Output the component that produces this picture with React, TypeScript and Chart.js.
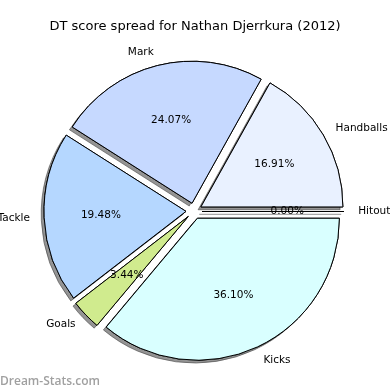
import React, { useEffect, useRef } from "react";
import { Chart, registerables } from "chart.js";

Chart.register(...registerables);

const TITLE = "DT score spread for Nathan Djerrkura (2012)";
const WATERMARK = "Dream-Stats.com";
// matplotlib (counter-clockwise from 3 o'clock) order
const categories = ["Handballs", "Mark", "Tackle", "Goals", "Kicks", "Hitout"];
const values = [16.91, 24.07, 19.48, 3.44, 36.1, 0.0];
const colors = ["#e9f1ff", "#c6d9ff", "#b5d7ff", "#d0eb8e", "#d9ffff", "#e9f1ff"];

const EXPLODE = 8; // px
const RADIUS = 142;
const FONT = '"DejaVu Sans", sans-serif';

// Chart.js draws clockwise, so reverse the order
const cjLabels = [...categories].reverse();
const cjValues = [...values].reverse();
const cjColors = [...colors].reverse();

function setShadow(ctx: CanvasRenderingContext2D, on: boolean) {
  ctx.shadowColor = on ? "rgba(60,60,60,0.55)" : "rgba(0,0,0,0)";
  ctx.shadowOffsetX = on ? -2.8 : 0;
  ctx.shadowOffsetY = on ? 2.8 : 0;
  ctx.shadowBlur = 0;
}

const piePlugin = {
  id: "mplPie",
  beforeDatasetDraw(chart: any, args: any) {
    const ctx = chart.ctx as CanvasRenderingContext2D;
    const meta = args.meta;
    ctx.save();
    meta.data.forEach((arc: any) => {
      const mid = (arc.startAngle + arc.endAngle) / 2;
      const dx = EXPLODE * Math.cos(mid);
      const dy = EXPLODE * Math.sin(mid);
      if (arc.endAngle - arc.startAngle === 0) {
        const a = arc.startAngle;
        setShadow(ctx, true);
        ctx.beginPath();
        ctx.moveTo(arc.x + dx, arc.y + dy + 0.5);
        ctx.lineTo(arc.x + dx + arc.outerRadius * Math.cos(a), arc.y + dy + 0.5 + arc.outerRadius * Math.sin(a));
        ctx.strokeStyle = "#000";
        ctx.lineWidth = 1;
        ctx.stroke();
        return;
      }
      ctx.save();
      ctx.translate(dx, dy);
      setShadow(ctx, true);
      arc.draw(ctx);
      setShadow(ctx, false);
      arc.draw(ctx);
      ctx.restore();
    });
    ctx.restore();
    return false;
  },
  afterDatasetsDraw(chart: any) {
    const ctx = chart.ctx as CanvasRenderingContext2D;
    const meta = chart.getDatasetMeta(0);
    const labels = chart.data.labels;
    const data = chart.data.datasets[0].data;
    ctx.save();
    ctx.font = `10.5px ${FONT}`;
    ctx.fillStyle = "#000";
    ctx.textBaseline = "middle";
    meta.data.forEach((arc: any, i: number) => {
      const mid = (arc.startAngle + arc.endAngle) / 2;
      const cx = arc.x + EXPLODE * Math.cos(mid);
      const cy = arc.y + EXPLODE * Math.sin(mid);
      const r = arc.outerRadius;
      // outer category label
      const lx = cx + 1.1 * r * Math.cos(mid);
      const ly = cy + 1.1 * r * Math.sin(mid);
      ctx.textAlign = Math.cos(mid) > 0 ? "left" : "right";
      ctx.fillText(String(labels[i]), lx, ly);
      // percentage
      const px = cx + 0.6 * r * Math.cos(mid);
      const py = cy + 0.6 * r * Math.sin(mid);
      ctx.textAlign = "center";
      ctx.fillText(Number(data[i]).toFixed(2) + "%", px, py);
    });
    ctx.restore();
  },
  afterDraw(chart: any) {
    const ctx = chart.ctx as CanvasRenderingContext2D;
    ctx.save();
    ctx.font = `13px ${FONT}`;
    ctx.fillStyle = "#000";
    ctx.textAlign = "center";
    ctx.textBaseline = "alphabetic";
    ctx.fillText(TITLE, 195, 30);
    ctx.font = `600 12px "Open Sans", sans-serif`;
    ctx.fillStyle = "#a0a0a0";
    ctx.textAlign = "left";
    ctx.fillText(WATERMARK, 0, 384.5);
    ctx.restore();
  },
};

export default function App() {
  const ref = useRef<HTMLCanvasElement | null>(null);
  useEffect(() => {
    document.body.style.margin = "0";
    const canvas = ref.current;
    if (!canvas) return;
    const chart = new Chart(canvas, {
      type: "pie",
      data: {
        labels: cjLabels,
        datasets: [
          {
            data: cjValues,
            backgroundColor: cjColors,
            borderColor: "#000",
            borderWidth: 1,
            radius: RADIUS,
            rotation: 90,
          } as any,
        ],
      },
      options: {
        responsive: false,
        animation: false,
        rotation: 90,
        radius: RADIUS,
        events: [],
        layout: { padding: { top: 32, right: 2, bottom: 0, left: 0 } },
        plugins: {
          legend: { display: false },
          tooltip: { enabled: false },
          title: { display: false },
        },
      } as any,
      plugins: [piePlugin as any],
    });
    return () => chart.destroy();
  }, []);
  return (
    <div style={{ position: "absolute", left: 0, top: 0, width: 390, height: 390, background: "#fff" }}>
      <canvas ref={ref} width={390} height={390} />
    </div>
  );
}
